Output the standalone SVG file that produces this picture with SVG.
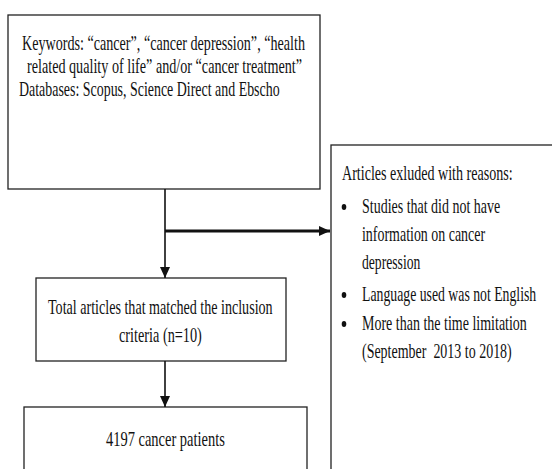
<svg xmlns="http://www.w3.org/2000/svg" width="552" height="469" viewBox="0 0 552 469">
<style>
.box{fill:#fff;stroke:#222;stroke-width:1.3}
.t{font-family:"Liberation Serif","Times New Roman",serif;font-size:22px;fill:#111}
.c{stroke:#111;fill:none}
</style>
<defs>
<marker id="ah" markerUnits="userSpaceOnUse" markerWidth="12" markerHeight="10" refX="11" refY="5" orient="auto">
<path d="M0,0 L11,5 L0,10 Z" fill="#111"/>
</marker>
</defs>
<rect width="552" height="469" fill="#fff"/>
<g id="n-search">
<rect class="box" x="8" y="15" width="312" height="174"/>
<text class="t" transform="translate(22,50) scale(0.72,1)" textLength="393" lengthAdjust="spacingAndGlyphs">Keywords: “cancer”, “cancer depression”, “health</text>
<text class="t" transform="translate(27,73) scale(0.72,1)" textLength="382" lengthAdjust="spacingAndGlyphs">related quality of life” and/or “cancer treatment”</text>
<text class="t" transform="translate(19,96) scale(0.72,1)" textLength="362" lengthAdjust="spacingAndGlyphs">Databases: Scopus, Science Direct and Ebscho</text>
</g>
<g id="n-excluded">
<rect class="box" x="331" y="145" width="240" height="340"/>
<text class="t" transform="translate(342,180) scale(0.72,1)" textLength="237" lengthAdjust="spacingAndGlyphs">Articles exluded with reasons:</text>
<ellipse cx="344" cy="207" rx="2.3" ry="3" fill="#111"/>
<text class="t" transform="translate(362,213) scale(0.72,1)" textLength="192" lengthAdjust="spacingAndGlyphs">Studies that did not have</text>
<text class="t" transform="translate(362,241) scale(0.72,1)" textLength="171" lengthAdjust="spacingAndGlyphs">information on cancer</text>
<text class="t" transform="translate(362,269) scale(0.72,1)" textLength="81" lengthAdjust="spacingAndGlyphs">depression</text>
<ellipse cx="344" cy="295" rx="2.3" ry="3" fill="#111"/>
<text class="t" transform="translate(362,301) scale(0.72,1)" textLength="242" lengthAdjust="spacingAndGlyphs">Language used was not English</text>
<ellipse cx="344" cy="324" rx="2.3" ry="3" fill="#111"/>
<text class="t" transform="translate(362,330) scale(0.72,1)" textLength="229" lengthAdjust="spacingAndGlyphs">More than the time limitation</text>
<text class="t" transform="translate(362,358) scale(0.72,1)" textLength="208" lengthAdjust="spacingAndGlyphs" xml:space="preserve">(September  2013 to 2018)</text>
</g>
<g id="n-total">
<rect class="box" x="36" y="278" width="250" height="83"/>
<text class="t" transform="translate(48,314) scale(0.72,1)" textLength="312" lengthAdjust="spacingAndGlyphs">Total articles that matched the inclusion</text>
<text class="t" transform="translate(119,342) scale(0.72,1)" textLength="115" lengthAdjust="spacingAndGlyphs">criteria (n=10)</text>
</g>
<g id="n-patients">
<rect class="box" x="24" y="407" width="283" height="80"/>
<text class="t" transform="translate(106,446) scale(0.72,1)" textLength="165" lengthAdjust="spacingAndGlyphs">4197 cancer patients</text>
</g>
<g id="connectors">
<line class="c" x1="165" y1="189" x2="165" y2="278" stroke-width="1.6" marker-end="url(#ah)"/>
<line class="c" x1="165" y1="231" x2="330" y2="231" stroke-width="2.8" marker-end="url(#ah)"/>
<line class="c" x1="165" y1="361" x2="165" y2="407" stroke-width="1.6" marker-end="url(#ah)"/>
</g>
</svg>
